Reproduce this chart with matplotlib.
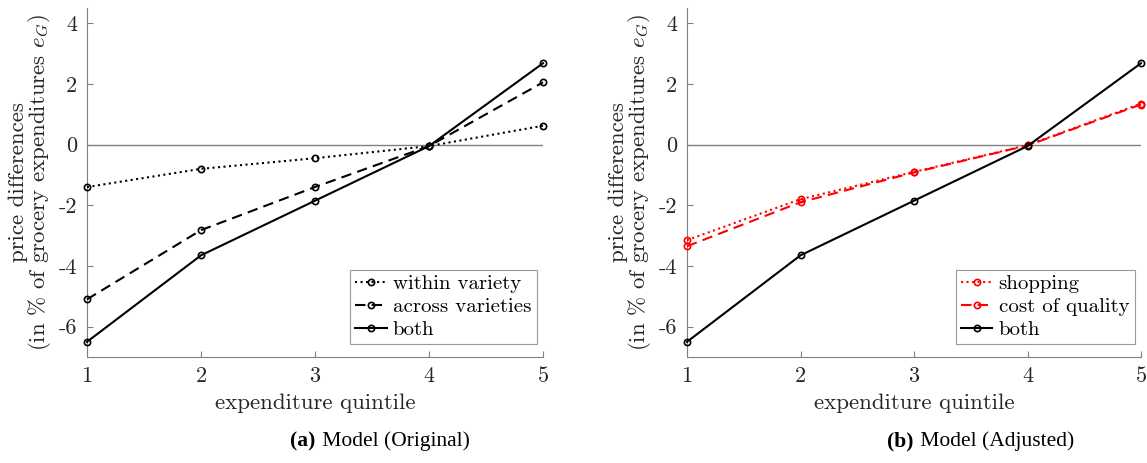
import numpy as np
import matplotlib
matplotlib.use('Agg')
import matplotlib.pyplot as plt

# expenditure quintiles
quintiles = [1, 2, 3, 4, 5]

# panel (a): model, original
within_variety = [-1.40, -0.80, -0.45, -0.05, 0.62]
across_varieties = [-5.10, -2.82, -1.40, -0.05, 2.05]
both = [-6.50, -3.65, -1.85, -0.05, 2.68]

# panel (b): model, adjusted
shopping = [-3.15, -1.80, -0.90, -0.02, 1.35]
cost_of_quality = [-3.35, -1.90, -0.92, -0.03, 1.32]

yticks = [-6, -4, -2, 0, 2, 4]

plt.rcParams['font.family'] = 'serif'
plt.rcParams['font.serif'] = ['cmr10', 'DejaVu Serif']
plt.rcParams['mathtext.fontset'] = 'cm'
plt.rcParams['axes.unicode_minus'] = False
plt.rcParams['axes.formatter.use_mathtext'] = False

axcol = '#262626'
fig = plt.figure(figsize=(11.47, 4.63), dpi=100)
ax1 = fig.add_axes([87 / 1147, 106 / 463, 456 / 1147, 349 / 463])
ax2 = fig.add_axes([687 / 1147, 106 / 463, 454 / 1147, 349 / 463])


def style_axes(ax):
    ax.set_xlim(1, 5)
    ax.set_ylim(-7, 4.5)
    ax.set_xticks(quintiles)
    ax.set_yticks(yticks)
    ax.set_yticklabels([str(t) for t in yticks])
    ax.axhline(0, color='#808080', lw=1.0, zorder=1)
    for s in ['top', 'right']:
        ax.spines[s].set_visible(False)
    for s in ['left', 'bottom']:
        ax.spines[s].set_color('#808080')
        ax.spines[s].set_linewidth(0.8)
    ax.tick_params(direction='in', length=4, color='#808080',
                   labelcolor=axcol, labelsize=16, pad=7)
    ax.set_xlabel('expenditure quintile', fontsize=16.5, color=axcol, labelpad=5)
    ax.set_ylabel('price differences\n(in % of grocery expenditures $e_G$)',
                  fontsize=16.5, color=axcol, labelpad=4, linespacing=0.92)


mk = dict(marker='o', markersize=4.5, markerfacecolor='none',
          markeredgewidth=1.2, clip_on=False, zorder=3)

ax1.plot(quintiles, within_variety, ':', color='black', lw=1.5,
         label='within variety', **mk)
ax1.plot(quintiles, across_varieties, '--', color='black', lw=1.5,
         dashes=(5, 3), label='across varieties', **mk)
ax1.plot(quintiles, both, '-', color='black', lw=1.5, label='both', **mk)
style_axes(ax1)

ax2.plot(quintiles, shopping, ':', color='red', lw=1.5,
         label='shopping', **mk)
ax2.plot(quintiles, cost_of_quality, '--', color='red', lw=1.5,
         dashes=(5, 3), label='cost of quality', **mk)
ax2.plot(quintiles, both, '-', color='black', lw=1.5, label='both', **mk)
style_axes(ax2)

for ax in (ax1, ax2):
    leg = ax.legend(loc='lower right', bbox_to_anchor=(0.995, 0.025),
                    fontsize=15, frameon=True, fancybox=False,
                    handlelength=1.5, handletextpad=0.3, borderpad=0.25,
                    labelspacing=0.2, borderaxespad=0.2)
    leg.get_frame().set_edgecolor('#808080')
    leg.get_frame().set_linewidth(0.8)

# captions
cap_font = ['Liberation Serif', 'DejaVu Serif']
fig.text(315 / 1147, 0.047, '(a)', fontsize=15.5, fontweight='bold',
         family=cap_font, ha='right', va='center')
fig.text(317 / 1147, 0.047, ' Model (Original)', fontsize=15.5,
         family=cap_font, ha='left', va='center')
fig.text(913 / 1147, 0.047, '(b)', fontsize=15.5, fontweight='bold',
         family=cap_font, ha='right', va='center')
fig.text(915 / 1147, 0.047, ' Model (Adjusted)', fontsize=15.5,
         family=cap_font, ha='left', va='center')

fig.savefig('out.png', dpi=100)
